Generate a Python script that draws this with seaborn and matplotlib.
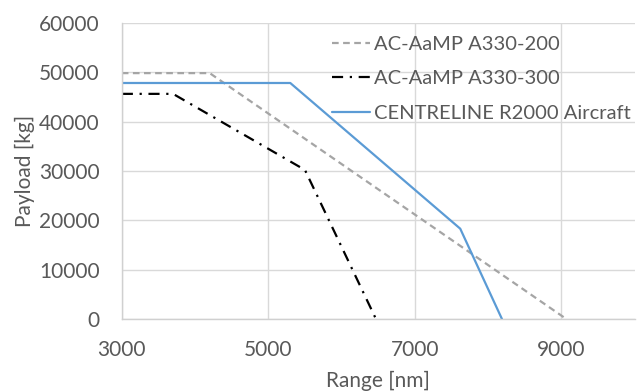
import pandas as pd
import matplotlib
matplotlib.use("Agg")
import matplotlib.pyplot as plt
import seaborn as sns

# Payload-range data
a332_range = [3000, 4200, 9070]
a332_payload = [49800, 49800, 0]

a333_range = [3000, 3700, 5500, 6470]
a333_payload = [45600, 45600, 30200, 0]

r2000_range = [3000, 5300, 7620, 8190]
r2000_payload = [47800, 47800, 18300, 0]

labels = ["AC-AaMP A330-200", "AC-AaMP A330-300", "CENTRELINE R2000 Aircraft"]
x_ticks = [3000, 5000, 7000, 9000]
y_ticks = [0, 10000, 20000, 30000, 40000, 50000, 60000]

sns.set_theme(style="white")
plt.rcParams['font.family'] = ['Lato', 'DejaVu Sans']
txt = '#595959'
fs = 15

fig, ax = plt.subplots(figsize=(6.41, 3.92), dpi=100)
fig.subplots_adjust(left=0.19, right=0.99, top=0.942, bottom=0.186)

df1 = pd.DataFrame({'Range': a332_range, 'Payload': a332_payload})
df2 = pd.DataFrame({'Range': a333_range, 'Payload': a333_payload})
df3 = pd.DataFrame({'Range': r2000_range, 'Payload': r2000_payload})

sns.lineplot(data=df1, x='Range', y='Payload', ax=ax, color='#A5A5A5',
             linewidth=1.6, linestyle=(0, (3, 2)), label=labels[0], sort=False)
sns.lineplot(data=df2, x='Range', y='Payload', ax=ax, color='black',
             linewidth=1.6, linestyle=(0, (5, 3, 1, 3)), label=labels[1], sort=False)
sns.lineplot(data=df3, x='Range', y='Payload', ax=ax, color='#5B9BD5',
             linewidth=1.6, label=labels[2], sort=False)

ax.set_xlim(3000, 10000)
ax.set_ylim(0, 60000)
ax.set_xticks(x_ticks)
ax.set_yticks(y_ticks)
ax.grid(True, color='#D9D9D9', linewidth=1)
ax.set_axisbelow(True)

for s in ['top', 'right']:
    ax.spines[s].set_visible(False)
for s in ['left', 'bottom']:
    ax.spines[s].set_color('#D0D0D0')
    ax.spines[s].set_linewidth(1)

ax.tick_params(axis='both', colors=txt, labelsize=fs, length=0)
ax.tick_params(axis='x', pad=15)
ax.tick_params(axis='y', pad=16)
ax.set_xlabel('Range [nm]', color=txt, fontsize=fs, labelpad=8)
ax.set_ylabel('Payload [kg]', color=txt, fontsize=fs, labelpad=3)

leg = ax.legend(loc='upper left', bbox_to_anchor=(0.41, 0.955), frameon=False,
                fontsize=14.5, handlelength=1.9, handletextpad=0.2,
                labelspacing=0.85, borderaxespad=0, borderpad=0)
for t in leg.get_texts():
    t.set_color(txt)

fig.savefig('out.png', dpi=100)
